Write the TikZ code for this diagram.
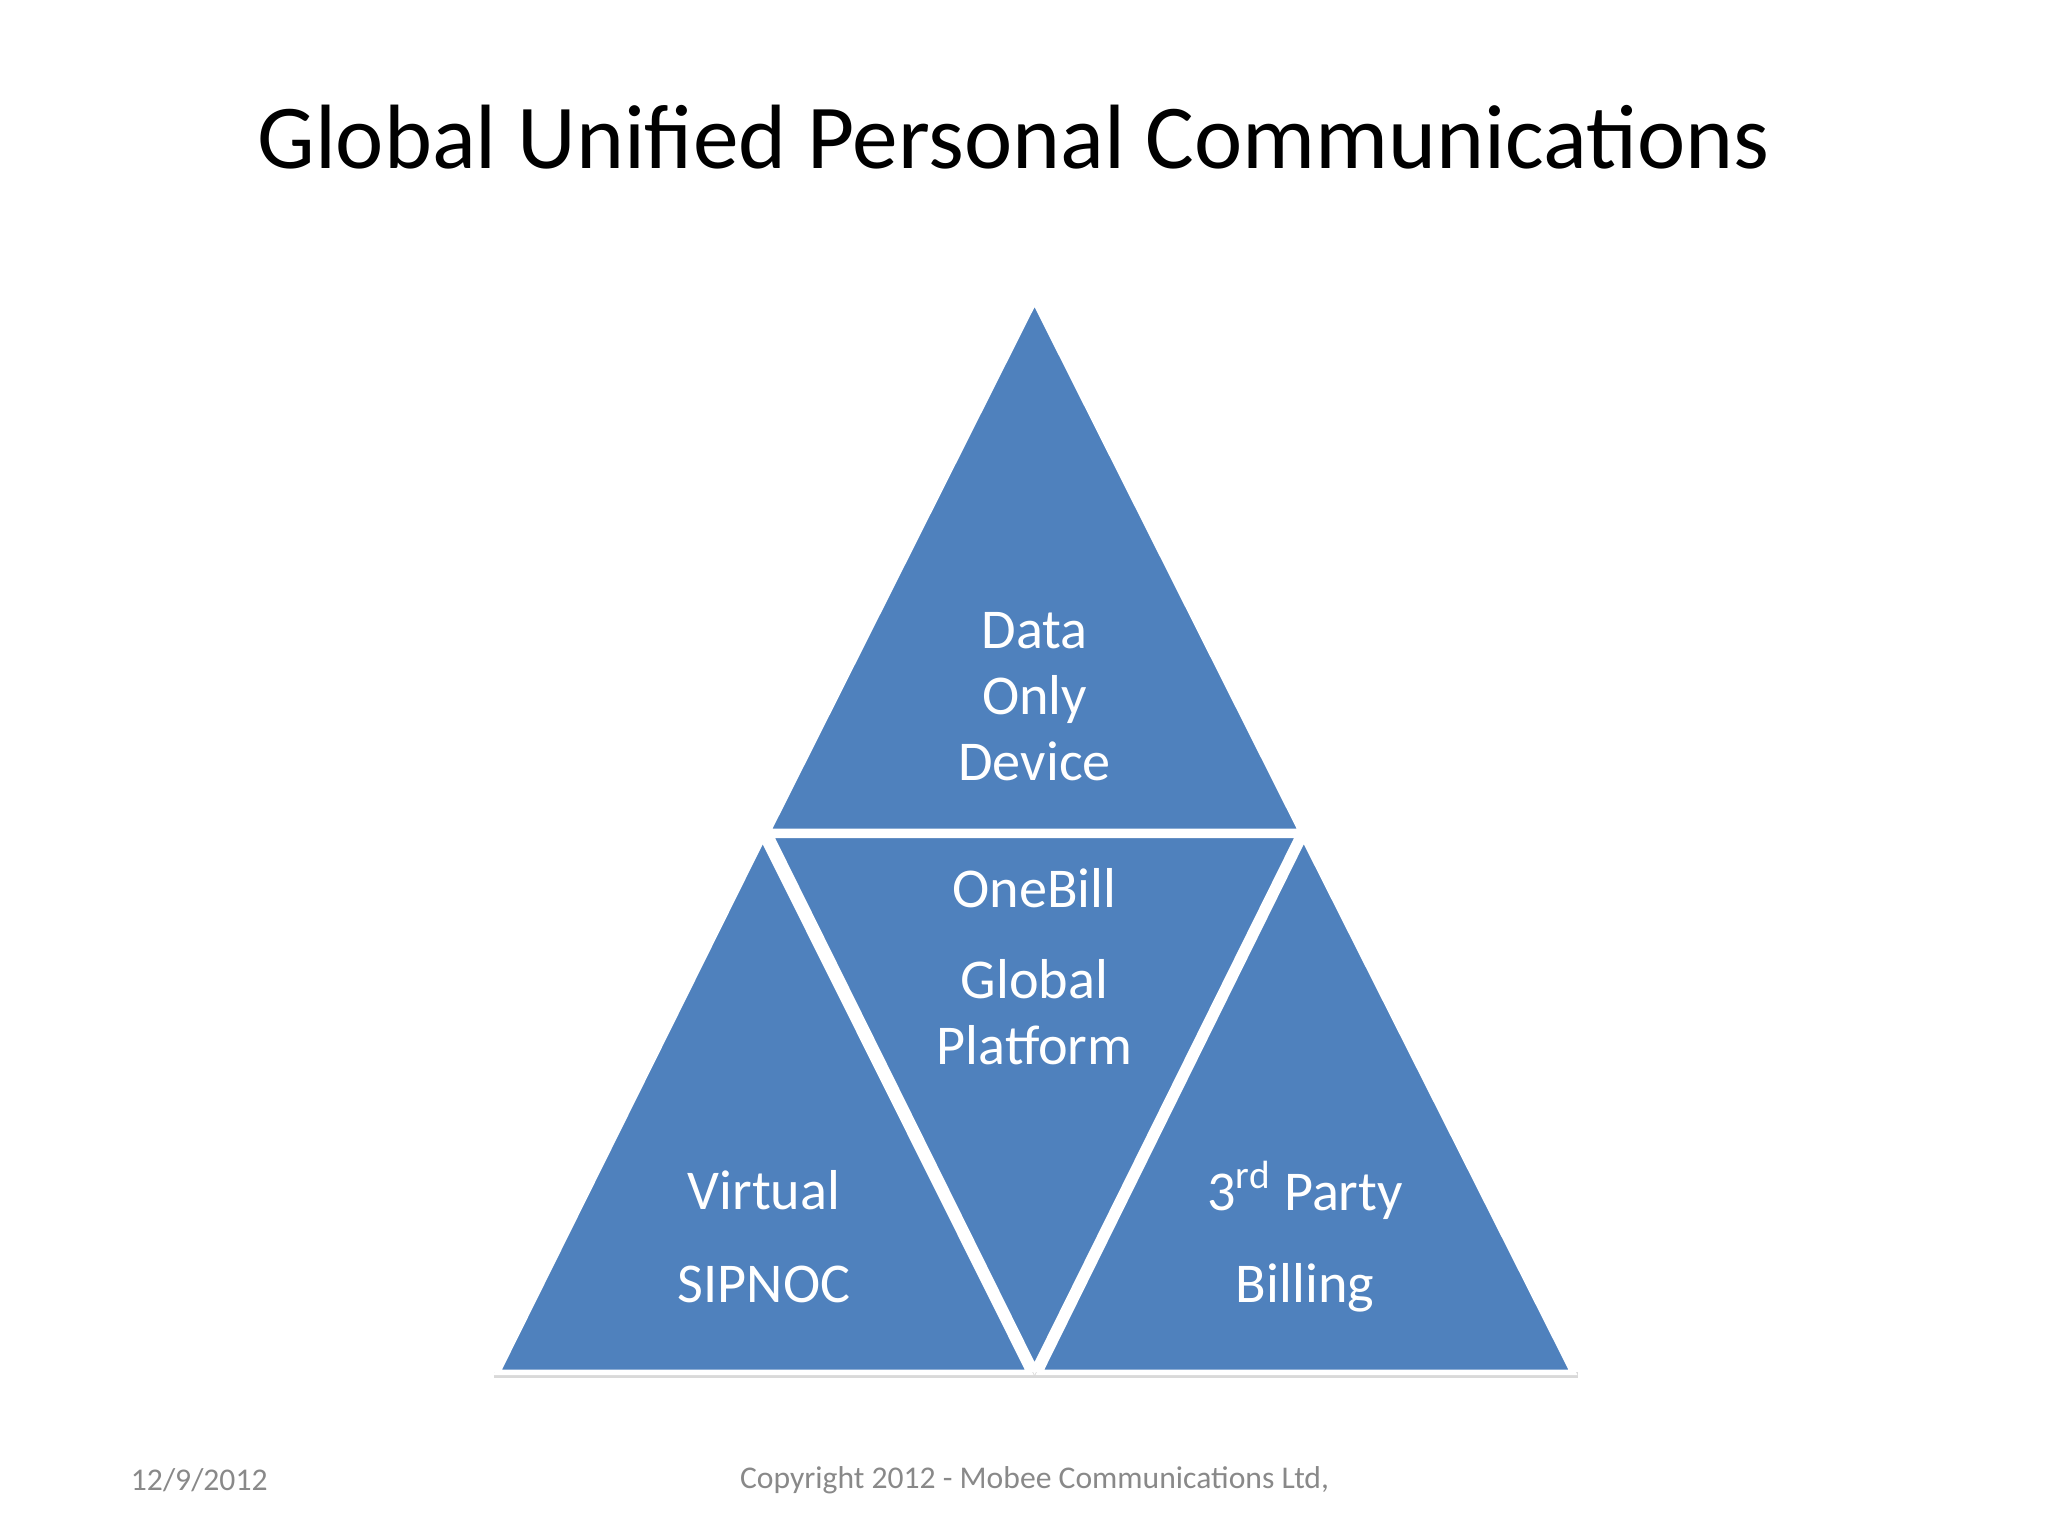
\documentclass[tikz,border=0pt]{standalone}
\usepackage{fontspec}
\setmainfont{Carlito}
\definecolor{tri}{RGB}{79,129,189}
\definecolor{foot}{RGB}{137,137,137}
\begin{document}
\begin{tikzpicture}[x=0.013196cm,y=-0.013196cm,
  tribox/.style={fill=tri,draw=white,line width=1.6pt,line join=miter},
  lbl/.style={text=white,font=\fontsize{16}{18.8}\selectfont,align=center},
  lbl2/.style={text=white,font=\fontsize{16}{26.3}\selectfont,align=center}]
\useasboundingbox (0,0) rectangle (1552,1164);
\node (title) at (768,104) {\fontsize{26}{30}\selectfont Global Unified Personal Communications};
\fill[black!15] (374,1044) -- (1196,1044) -- (1196,1040) -- (374,1040) -- cycle;
\draw[tribox] (784,228) -- (986,630) -- (582,630) -- cycle;
\draw[tribox] (578,635) -- (780,1040) -- (377,1040) -- cycle;
\draw[tribox] (988,635) -- (1192,1040) -- (788,1040) -- cycle;
\draw[tribox] (584,633) -- (984,633) -- (784,1037) -- cycle;
\node[lbl] (top) at (784,528) {Data\\Only\\Device};
\node[lbl] (mid1) at (784,673) {OneBill};
\node[lbl] (mid2) at (784,767) {Global\\Platform};
\node[lbl2] (left) at (579,937) {Virtual\\SIPNOC};
\node[lbl2] (right) at (989,937) {3\textsuperscript{rd} Party\\Billing};
\node[text=foot,font=\fontsize{9}{11}\selectfont] (date) at (151,1122) {12/9/2012};
\node[text=foot,font=\fontsize{9}{11}\selectfont] (copy) at (784,1122) {Copyright 2012 - Mobee Communications Ltd,};
\end{tikzpicture}
\end{document}
